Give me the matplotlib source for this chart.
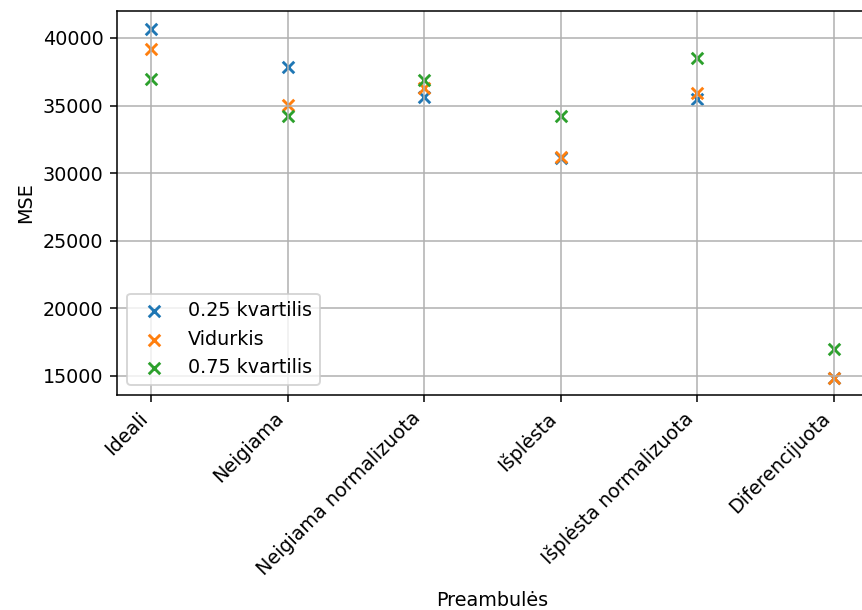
import matplotlib
matplotlib.use("Agg")
import matplotlib.pyplot as plt

categories = ["Ideali", "Neigiama", "Neigiama normalizuota", "Išplėsta",
              "Išplėsta normalizuota", "Diferencijuota"]
q25 = [40640, 37830, 35600, 31100, 35460, 14850]
mean = [39160, 35070, 36290, 31170, 35950, 14870]
q75 = [36970, 34210, 36900, 34210, 38520, 16970]

DPI = 138
fig = plt.figure(figsize=(862 / DPI, 610 / DPI), dpi=DPI)
ax = fig.add_axes([117 / 862, 1 - 395 / 610, 751 / 862, 384 / 610])

x = range(len(categories))
ax.scatter(x, q25, marker="x", label="0.25 kvartilis")
ax.scatter(x, mean, marker="x", label="Vidurkis")
ax.scatter(x, q75, marker="x", label="0.75 kvartilis")

ax.set_xlim(-0.25, 5.25)
ax.set_ylim(13590, 41990)
ax.set_xticks(list(x))
ax.set_xticklabels(categories, rotation=45, ha="right")
ax.set_xlabel("Preambulės", labelpad=6)
ax.set_ylabel("MSE")
ax.grid(True)
ax.legend(loc="lower left", bbox_to_anchor=(10 / 751, 10 / 384), borderaxespad=0)

fig.savefig("out.png", dpi=DPI)
